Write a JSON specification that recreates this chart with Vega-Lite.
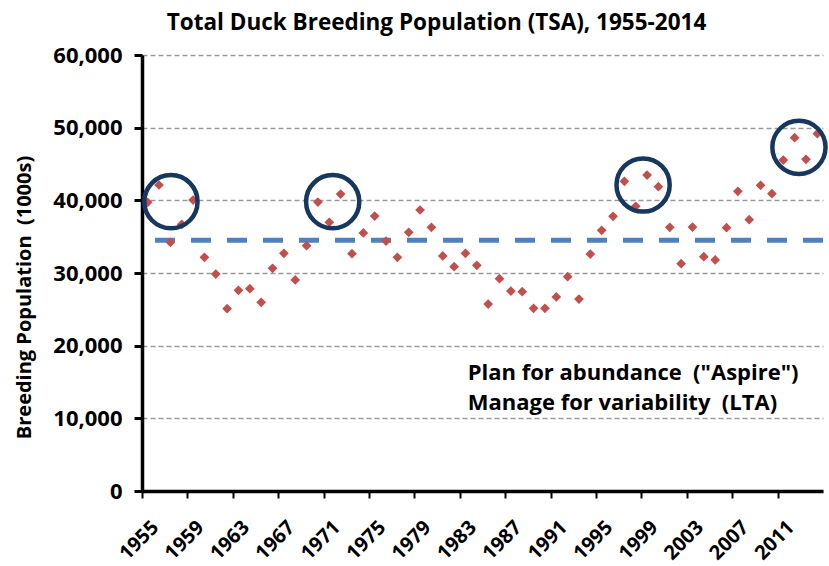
{
  "$schema": "https://vega.github.io/schema/vega-lite/v6.json",
  "width": 681,
  "height": 436,
  "autosize": {"type": "none"},
  "padding": {"left": 142, "top": 55, "right": 6, "bottom": 75},
  "background": "white",
  "config": {
    "view": {"stroke": null},
    "font": "Open Sans"
  },
  "title": {
    "text": "Total Duck Breeding Population  (TSA), 1955-2014",
    "fontSize": 22.5,
    "fontWeight": "bold",
    "font": "Open Sans",
    "color": "black",
    "anchor": "middle",
    "baseline": "alphabetic",
    "offset": 25,
    "dy": 33,
    "dx": -46
  },
  "datasets": {
    "pop": [
      {"year": 1955, "value": 39730}, {"year": 1956, "value": 42110}, {"year": 1957, "value": 34220},
      {"year": 1958, "value": 36700}, {"year": 1959, "value": 40040}, {"year": 1960, "value": 32160},
      {"year": 1961, "value": 29860}, {"year": 1962, "value": 25090}, {"year": 1963, "value": 27620},
      {"year": 1964, "value": 27840}, {"year": 1965, "value": 25970}, {"year": 1966, "value": 30650},
      {"year": 1967, "value": 32710}, {"year": 1968, "value": 29040}, {"year": 1969, "value": 33760},
      {"year": 1970, "value": 39770}, {"year": 1971, "value": 36970}, {"year": 1972, "value": 40870},
      {"year": 1973, "value": 32660}, {"year": 1974, "value": 35520}, {"year": 1975, "value": 37840},
      {"year": 1976, "value": 34400}, {"year": 1977, "value": 32160}, {"year": 1978, "value": 35600},
      {"year": 1979, "value": 38670}, {"year": 1980, "value": 36290}, {"year": 1981, "value": 32340},
      {"year": 1982, "value": 30870}, {"year": 1983, "value": 32710}, {"year": 1984, "value": 31060},
      {"year": 1985, "value": 25730}, {"year": 1986, "value": 29220}, {"year": 1987, "value": 27520},
      {"year": 1988, "value": 27430}, {"year": 1989, "value": 25140}, {"year": 1990, "value": 25140},
      {"year": 1991, "value": 26700}, {"year": 1992, "value": 29490}, {"year": 1993, "value": 26420},
      {"year": 1994, "value": 32610}, {"year": 1995, "value": 35870}, {"year": 1996, "value": 37800},
      {"year": 1997, "value": 42620}, {"year": 1998, "value": 39180}, {"year": 1999, "value": 43480},
      {"year": 2000, "value": 41880}, {"year": 2001, "value": 36290}, {"year": 2002, "value": 31280},
      {"year": 2003, "value": 36330}, {"year": 2004, "value": 32250}, {"year": 2005, "value": 31790},
      {"year": 2006, "value": 36240}, {"year": 2007, "value": 41240}, {"year": 2008, "value": 37340},
      {"year": 2009, "value": 42070}, {"year": 2010, "value": 40910}, {"year": 2011, "value": 45550},
      {"year": 2012, "value": 48620}, {"year": 2013, "value": 45650}, {"year": 2014, "value": 49170}
    ],
    "circles": [
      {"year": 1957.05, "value": 39810},
      {"year": 1971.3, "value": 39810},
      {"year": 1998.65, "value": 42110},
      {"year": 2012.38, "value": 47300}
    ],
    "notes": [
      {"year": 1983.2, "value": 15275, "label": "Plan for abundance \u00a0(\"Aspire\")"},
      {"year": 1983.2, "value": 11147, "label": "Manage for variability \u00a0(LTA)"}
    ],
    "lta": [{"value": 34500}]
  },
  "layer": [
    {
      "data": {"name": "lta"},
      "mark": {"type": "rule", "color": "#4F81BD", "strokeWidth": 5, "strokeDash": [20, 16]},
      "encoding": {
        "y": {"field": "value", "type": "quantitative"}
      }
    },
    {
      "data": {"name": "pop"},
      "mark": {"type": "point", "shape": "diamond", "filled": true, "color": "#C0504D", "size": 95, "opacity": 1},
      "encoding": {
        "x": {
          "field": "year",
          "type": "quantitative",
          "scale": {"domain": [1954.5, 2014.5], "nice": false, "zero": false},
          "axis": {
            "title": null,
            "values": [1955,1956,1957,1958,1959,1960,1961,1962,1963,1964,1965,1966,1967,1968,1969,1970,1971,1972,1973,1974,1975,1976,1977,1978,1979,1980,1981,1982,1983,1984,1985,1986,1987,1988,1989,1990,1991,1992,1993,1994,1995,1996,1997,1998,1999,2000,2001,2002,2003,2004,2005,2006,2007,2008,2009,2010,2011,2012,2013,2014,2015],
            "tickOffset": -5.675,
            "labelOffset": 13,
            "labelExpr": "(datum.value - 1955) % 4 == 0 && datum.value <= 2011 ? '' + datum.value : ''",
            "labelAngle": -45,
            "labelAlign": "right",
            "labelBaseline": "middle",
            "labelPadding": 26,
            "labelFontSize": 20,
            "labelFontWeight": "bold",
            "labelColor": "black",
            "labelFont": "Open Sans",
            "labelOverlap": false,
            "labelBound": false,
            "labelFlush": false,
            "tickColor": "black",
            "tickWidth": 2,
            "tickSize": 7,
            "domainColor": "black",
            "domainWidth": 3.5,
            "grid": false
          }
        },
        "y": {
          "field": "value",
          "type": "quantitative",
          "scale": {"domain": [0, 60000], "nice": false},
          "axis": {
            "title": "Breeding Population \u00a0(1000s)",
            "titleFontSize": 20,
            "titleFontWeight": "bold",
            "titleColor": "black",
            "titleFont": "Open Sans",
            "titleX": -118,
            "titleY": 242,
            "titleAngle": -90,
            "titleAlign": "center",
            "titleBaseline": "middle",
            "values": [0, 10000, 20000, 30000, 40000, 50000, 60000],
            "format": ",.0f",
            "labelFontSize": 22,
            "labelFontWeight": "bold",
            "labelColor": "black",
            "labelFont": "Open Sans",
            "labelPadding": 12,
            "tickColor": "black",
            "tickWidth": 3,
            "tickSize": 8,
            "domainColor": "black",
            "domainWidth": 3.5,
            "grid": true,
            "gridColor": "#9A9A9A",
            "gridWidth": 1.4,
            "gridDash": [5, 3]
          }
        }
      }
    },
    {
      "data": {"name": "circles"},
      "mark": {"type": "point", "shape": "circle", "filled": false, "color": "#17375E", "strokeWidth": 4.5, "size": 2830, "opacity": 1},
      "encoding": {
        "x": {"field": "year", "type": "quantitative"},
        "y": {"field": "value", "type": "quantitative"}
      }
    },
    {
      "data": {"name": "notes"},
      "mark": {"type": "text", "align": "left", "baseline": "alphabetic", "fontSize": 22, "fontWeight": "bold", "color": "black", "font": "Open Sans"},
      "encoding": {
        "x": {"field": "year", "type": "quantitative"},
        "y": {"field": "value", "type": "quantitative"},
        "text": {"field": "label"}
      }
    }
  ]
}
